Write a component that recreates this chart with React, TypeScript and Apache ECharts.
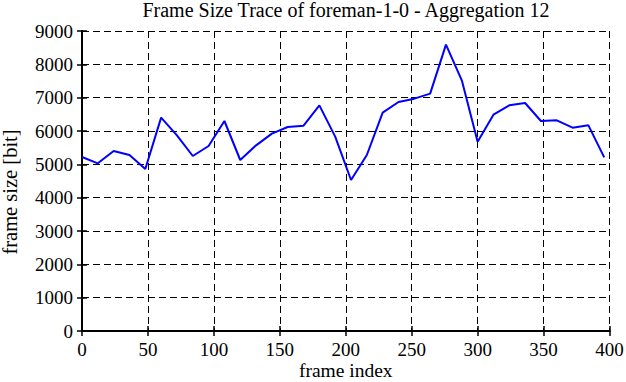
import React, { useEffect, useRef } from "react";
import * as echarts from "echarts";

const frameIndex = [0, 12, 24, 36, 48, 60, 72, 84, 96, 108, 120, 132, 144, 156, 168, 180, 192, 204, 216, 228, 240, 252, 264, 276, 288, 300, 312, 324, 336, 348, 360, 372, 384, 396];
const frameSize = [5220, 5030, 5400, 5280, 4860, 6400, 5870, 5250, 5550, 6300, 5130, 5570, 5920, 6120, 6160, 6770, 5830, 4530, 5280, 6550, 6870, 6970, 7120, 8590, 7520, 5680, 6490, 6770, 6840, 6300, 6320, 6100, 6170, 5210];

const xTicks = { min: 0, max: 400, interval: 50 };
const yTicks = { min: 0, max: 9000, interval: 1000 };

const titleText = "Frame Size Trace of foreman-1-0 - Aggregation 12";
const xName = "frame index";
const yName = "frame size [bit]";

const FONT = "Liberation Serif";

export default function App() {
  const ref = useRef<HTMLDivElement>(null);
  useEffect(() => {
    document.body.style.margin = "0";
    if (!ref.current) return;
    const chart = echarts.init(ref.current, undefined, { renderer: "svg" });
    const data = frameIndex.map((x, i) => [x, frameSize[i]]);
    const axisLine = { show: true, lineStyle: { color: "#000", width: 2 } };
    const axisTick = { show: true, inside: true, length: 5, lineStyle: { color: "#000", width: 1.5 } };
    const labelStyle = {
      fontFamily: FONT,
      fontSize: 19,
      color: "#000",
      margin: 9,
      formatter: (v: number) => String(v),
    };
    const gridLine = { show: true, lineStyle: { color: "#000", type: [7, 4], width: 1 } };
    chart.setOption({
      animation: false,
      backgroundColor: "#fff",
      textStyle: { fontFamily: FONT, fontSize: 19, color: "#000" },
      title: {
        text: titleText,
        left: 346,
        top: 0,
        padding: 0,
        textAlign: "center",
        textStyle: { fontFamily: FONT, fontSize: 20, fontWeight: "normal", color: "#000", lineHeight: 20 },
      },
      graphic: [
        {
          type: "text",
          x: 10,
          y: 192,
          rotation: Math.PI / 2,
          style: {
            text: yName,
            fontFamily: FONT,
            fontSize: 20.5,
            fill: "#000",
            textAlign: "center",
            textVerticalAlign: "middle",
          },
        },
      ],
      grid: { left: 82, right: 16.5, top: 31, bottom: 51, containLabel: false, outerBoundsMode: "none" },
      xAxis: [
        {
          type: "value",
          min: xTicks.min,
          max: xTicks.max,
          interval: xTicks.interval,
          position: "bottom",
          name: xName,
          nameLocation: "middle",
          nameGap: 29,
          nameMoveOverlap: false,
          nameTextStyle: { fontFamily: FONT, fontSize: 19.5, color: "#000", lineHeight: 20 },
          axisLine,
          axisTick,
          axisLabel: labelStyle,
          splitLine: gridLine,
        },
        {
          type: "value",
          min: xTicks.min,
          max: xTicks.max,
          interval: xTicks.interval,
          position: "top",
          axisLine,
          axisTick,
          axisLabel: { show: false },
          splitLine: { show: false },
        },
      ],
      yAxis: [
        {
          type: "value",
          min: yTicks.min,
          max: yTicks.max,
          interval: yTicks.interval,
          position: "left",
          axisLine,
          axisTick,
          axisLabel: labelStyle,
          splitLine: gridLine,
        },
        {
          type: "value",
          min: yTicks.min,
          max: yTicks.max,
          interval: yTicks.interval,
          position: "right",
          axisLine,
          axisTick,
          axisLabel: { show: false },
          splitLine: { show: false },
        },
      ],
      series: [
        {
          type: "line",
          data,
          xAxisIndex: 0,
          yAxisIndex: 0,
          showSymbol: false,
          lineStyle: { color: "#0000ff", width: 2 },
          itemStyle: { color: "#0000ff" },
        },
      ],
    });
    return () => chart.dispose();
  }, []);
  return <div ref={ref} style={{ width: 626, height: 382 }} />;
}
